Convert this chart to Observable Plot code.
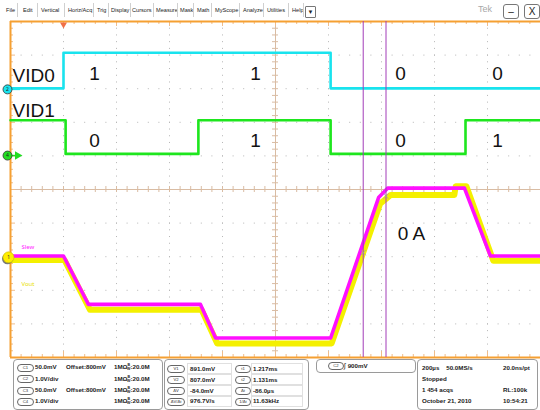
<!DOCTYPE html>
<html><head><meta charset="utf-8">
<script src="https://cdn.jsdelivr.net/npm/d3@7"></script>
<script src="https://cdn.jsdelivr.net/npm/@observablehq/plot@0.6"></script>
<style>
body{margin:0;width:540px;height:410px;overflow:hidden;background:#fff;font-family:"Liberation Sans",Arial,sans-serif;position:relative}
#menu{position:absolute;left:0;top:0;width:540px;height:20px}
.mi{position:absolute;top:6px;font-size:5.6px;color:#222;white-space:nowrap;line-height:8px}
.sep{position:absolute;top:3px;width:1px;height:14px;background:#d0d0d0}
.btn{position:absolute;top:4px;width:14px;height:13px;border:1px solid #777;border-radius:3px;font-size:10px;line-height:13px;text-align:center;color:#222}
#chart{position:absolute;left:0;top:20px}
.box{position:absolute;border:1px solid #9a9a9a;border-radius:4px;background:#fff}
.pill{position:absolute;height:6px;border:1px solid #666;border-radius:4px;font-size:4.2px;line-height:6px;text-align:center;color:#333;background:#fff}
.t{position:absolute;font-size:6.2px;font-weight:bold;color:#222;white-space:nowrap;line-height:8px}
.cell{position:absolute;border:1px solid #e0e0e0}
</style></head><body>
<div id="menu"></div>
<div id="chart"></div>
<div id="panel"></div>
<script>
// ---------------- data ----------------
const menuItems = ["File","Edit","Vertical","Horiz/Acq","Trig","Display","Cursors","Measure","Mask","Math","MyScope","Analyze","Utilities","Help"];
const menuX = [6,23,41,68,97,111,132,156,180,197,215,243,267,292];
const menuSepX = [17,37,64,93,108,130,153,177,193,211,239,263,288,303];

// time in µs relative to trigger, 200 µs/div
const timeDomain = [-200, 1800];
const divDomain = [-5, 5];

// channel positions (div) and scales
const ch2Pos = 2.98, ch2VoltsPerDiv = 1.0;
const ch4Pos = 1.01, ch4VoltsPerDiv = 1.0;
const ch13Pos = -2.02, ch13Offset = 800, ch13MvPerDiv = 50;

// VID0 (C2, cyan)
const vid0Times = [-200, 0, 1008, 1800];
const vid0Volts = [0.03, 1.09, 0.03, 0.03];
// VID1 (C4, green)
const vid1Times = [-200, 8, 509, 1008, 1517, 1800];
const vid1Volts = [1.05, 0.05, 1.05, 0.05, 1.05, 1.05];
// Slew (C1, magenta) in mV
const slewTimes = [-200, 0, 94, 517, 574, 1008, 1189, 1223, 1513, 1611, 1800];
const slewMv    = [802, 802, 730, 730, 680, 680, 889, 903, 903, 802, 802];
// Vout (C3, yellow) in mV
const voutTimes = [-200, 4, 100, 521, 580, 1012, 1195, 1235, 1475, 1480, 1520, 1622, 1800];
const voutMv    = [796, 796, 722, 722, 672, 672, 880, 893, 893, 906, 906, 795, 795];

// annotations
const bitTimes = [117, 725, 1272, 1638];
const vid0Bits = ["1","1","0","0"];
const vid1Bits = ["0","1","0","1"];
const vid0BitDiv = 3.45, vid1BitDiv = 1.46;
const vidNames = ["VID0","VID1"];
const vidNameDiv = [3.39, 2.35];
const currentLabel = "0 A", currentTime = 1313, currentDiv = -1.31;

// cursors
const cursorT = [1217, 1131]; // t1, t2 (µs)
const cursorMv = [891, 807];  // V1, V2

// readouts
const chNames = ["C1","C2","C3","C4"];
const chScale = ["50.0mV","1.0V/div","50.0mV","1.0V/div"];
const chOffset = ["Offset:800mV","","Offset:800mV",""];
const chImp = ["1MΩ","1MΩ","1MΩ","1MΩ"];
const chBw = ["20.0M","20.0M","20.0M","20.0M"];
const curNamesL = ["V1","V2","ΔV","ΔV/Δt"];
const curValsL = ["891.0mV","807.0mV","-84.0mV","976.7V/s"];
const curNamesR = ["t1","t2","Δt","1/Δt"];
const curValsR = ["1.217ms","1.131ms","-86.0µs","11.63kHz"];
const trigText = ["C2","900mV"];
const acqLeft = ["200µs   50.0MS/s","Stopped","1 454 acqs","October 21, 2010"];
const acqRight = ["20.0ns/pt","","RL:100k","10:54:21"];

// ---------------- menu ----------------
const menu = document.getElementById("menu");
menuItems.forEach((m,i)=>{const s=document.createElement("span");s.className="mi";s.style.left=menuX[i]+"px";s.textContent=m;menu.appendChild(s);});
menuSepX.forEach(x=>{const s=document.createElement("div");s.className="sep";s.style.left=x+"px";menu.appendChild(s);});
menu.insertAdjacentHTML("beforeend",
 `<div class="btn" style="left:305px;top:6px;width:9px;height:10px;font-size:6px;line-height:10px;border-radius:1px">▼</div>
  <span style="position:absolute;left:478px;top:4px;font-size:9px;color:#a8a8a8">Tek</span>
  <div class="btn" style="left:503px">–</div>
  <div class="btn" style="left:524px">X</div>`);

// ---------------- chart ----------------
const yC13 = mv => ch13Pos + (mv - ch13Offset)/ch13MvPerDiv;
const vid0 = vid0Times.map((t,i)=>({t, d: ch2Pos + vid0Volts[i]/ch2VoltsPerDiv}));
const vid1 = vid1Times.map((t,i)=>({t, d: ch4Pos + vid1Volts[i]/ch4VoltsPerDiv}));
const slew = slewTimes.map((t,i)=>({t, d: yC13(slewMv[i])}));
const vout = voutTimes.map((t,i)=>({t, d: yC13(voutMv[i])}));
const bits = bitTimes.flatMap((t,i)=>[{t,d:vid0BitDiv,s:vid0Bits[i]},{t,d:vid1BitDiv,s:vid1Bits[i]}]);
const names = vidNames.map((s,i)=>({t:timeDomain[0], d:vidNameDiv[i], s}));
const cursors = cursorT.map((t,i)=>({t, d: yC13(cursorMv[i])}));

const majorX = d3.range(timeDomain[0]+200, timeDomain[1], 200).filter(t=>t!==800);
const majorY = d3.range(-4, 5, 1).filter(d=>d!==0);
const minorX = d3.range(timeDomain[0], timeDomain[1]+1, 40);
const minorY = d3.range(-5, 5.01, 0.2);
const pxT = (timeDomain[1]-timeDomain[0])/530; // µs per pixel
const pxD = 10/336;                              // div per pixel
const tick = "#efbd8c", orange = "#f5a032", center = "#d9bca3";

const markers = [
  {t:timeDomain[0], d:ch2Pos, fill:"#19e3ee", lab:"2"},
  {t:timeDomain[0], d:ch4Pos, fill:"#22dd22", lab:"4"},
];

const plot = Plot.plot({
  width: 540, height: 339,
  marginLeft: 10, marginRight: 0, marginTop: 1, marginBottom: 2,
  x: {domain: timeDomain, axis: null},
  y: {domain: divDomain, axis: null},
  marks: [
    Plot.ruleX(majorX, {stroke:"#b5b5b5", strokeDasharray:"1,5.72"}),
    Plot.ruleY(majorY, {stroke:"#b5b5b5", strokeDasharray:"1,9.6"}),
    Plot.ruleX([800], {stroke:center}),
    Plot.ruleY([0], {stroke:center}),
    Plot.ruleY(minorY, {y:d=>d, x1:800-3*pxT, x2:800+3*pxT, stroke:center}),
    Plot.ruleX(minorX, {x:d=>d, y1:-3*pxD, y2:3*pxD, stroke:center}),
    // border ticks
    Plot.ruleX(minorX, {x:d=>d, y1:5, y2:d=>5-((d+200)%200===0?5:3)*pxD, stroke:tick}),
    Plot.ruleX(minorX, {x:d=>d, y1:-5, y2:d=>-5+((d+200)%200===0?6:3)*pxD, stroke:tick}),
    Plot.ruleY(minorY, {y:d=>d, x1:timeDomain[0], x2:d=>timeDomain[0]+(Math.abs(d-Math.round(d))<1e-6?5:3)*pxT, stroke:tick}),
    // frame (top, bottom, left)
    Plot.ruleY([5, -5], {stroke:orange, strokeWidth:2}),
    Plot.ruleX([timeDomain[0]], {stroke:orange, strokeWidth:2}),
    // traces
    Plot.line(vid0, {x:"t", y:"d", stroke:"#19e3ee", strokeWidth:2.6, curve:"step-after"}),
    Plot.line(vid1, {x:"t", y:"d", stroke:"#1ee61e", strokeWidth:2.6, curve:"step-after"}),
    Plot.line(vout, {x:"t", y:"d", stroke:"#f4f000", strokeWidth:6}),
    Plot.line(slew, {x:"t", y:"d", stroke:"#ff10ff", strokeWidth:3.6}),
    // cursors
    Plot.ruleX(cursorT, {stroke:"#a23cb8", strokeWidth:1}),
    Plot.dot(cursors, {x:"t", y:"d", symbol:"times", r:2.5, stroke:"#a0a0a0", strokeWidth:0.8}),
    // labels
    Plot.text(names, {x:"t", y:"d", text:"s", textAnchor:"start", dx:2, fontSize:19, fontFamily:"Liberation Sans, Arial, sans-serif", fill:"#111"}),
    Plot.text(bits, {x:"t", y:"d", text:"s", fontSize:19, fontFamily:"Liberation Sans, Arial, sans-serif", fill:"#111"}),
    Plot.text([currentLabel], {x:currentTime, y:currentDiv, text:d=>d, fontSize:19, fontFamily:"Liberation Sans, Arial, sans-serif", fill:"#111"}),
    Plot.text(["Slew"], {x:timeDomain[0], y:yC13(815), text:d=>d, textAnchor:"start", dx:11, fontSize:6, fill:"#ff20ff"}),
    Plot.text(["Vout"], {x:timeDomain[0], y:yC13(760), text:d=>d, textAnchor:"start", dx:11, fontSize:6, fill:"#e8e000"}),
    // channel markers
    Plot.ruleY(markers, {y:"d", x1:timeDomain[0], x2:timeDomain[0]+10*pxT, stroke:"fill", strokeWidth:1.5}),
    Plot.dot([markers[1]], {x:"t", y:"d", symbol:"triangle", rotate:90, r:3.2, fill:"fill", dx:7}),
    Plot.dot(markers, {x:"t", y:"d", r:4.5, fill:"fill", stroke:"#333", strokeWidth:0.8, dx:-3}),
    Plot.text(markers, {x:"t", y:"d", text:"lab", dx:-3, fontSize:5, fill:"#222"}),
    Plot.dot([{t:timeDomain[0], d:ch13Pos}], {x:"t", y:"d", r:5.5, fill:"#777", dx:-3, dy:1.5}),
    Plot.dot([{t:timeDomain[0], d:ch13Pos}], {x:"t", y:"d", r:5.5, fill:"#ffee00", stroke:"#c8b800", strokeWidth:0.6, dx:-2}),
    Plot.text([{t:timeDomain[0], d:ch13Pos}], {x:"t", y:"d", text:()=>"1", dx:-2, fontSize:5.5, fill:"#333"}),
    // trigger position marker
    Plot.dot([0], {x:d=>d, y:5, symbol:"triangle", rotate:180, r:2.6, fill:"#f07048", dy:3})
  ]
});
document.getElementById("chart").appendChild(plot);

// ---------------- readout panel ----------------
const panel = document.getElementById("panel");
function el(cls, left, top, html, extra){const d=document.createElement("div");d.className=cls;d.style.left=left+"px";d.style.top=top+"px";if(extra)Object.assign(d.style,extra);d.innerHTML=html;panel.appendChild(d);return d;}
const rowTop = [363, 374.5, 386, 397];
el("box",13,359,"",{width:"148px",height:"49px"});
chNames.forEach((c,i)=>{
  el("pill",17,rowTop[i]+0.5,c,{width:"15px"});
  el("t",35,rowTop[i],chScale[i]);
  if(chOffset[i]) el("t",66,rowTop[i],chOffset[i]);
  el("t",114,rowTop[i],chImp[i]);
  el("t",127,rowTop[i],`<span style="display:inline-block;font-size:3.6px;line-height:3.6px;vertical-align:-1px;text-align:center">B<br>W</span>:${chBw[i]}`);
});
el("box",164,359,"",{width:"143px",height:"49px"});
const rowTop2 = [364.5, 375.5, 386.5, 397];
curNamesL.forEach((c,i)=>{
  el("cell",187,rowTop2[i]-1.5,"",{width:"43px",height:"9px"});
  el("cell",251,rowTop2[i]-1.5,"",{width:"50px",height:"9px"});
  el("pill",167,rowTop2[i]+0.5,c,{width:"16px"});
  el("t",190,rowTop2[i],curValsL[i]);
  el("pill",235,rowTop2[i]+0.5,curNamesR[i],{width:"14px"});
  el("t",253,rowTop2[i],curValsR[i]);
});
el("box",316,359,"",{width:"98px",height:"12px"});
el("pill",328,362,trigText[0],{width:"14px"});
el("t",344,361.5,`<span style="font-weight:normal;font-size:7px">∫</span> ${trigText[1]}`);
el("box",417,359,"",{width:"119px",height:"49px"});
const rowTop4 = [364, 375, 386, 397];
acqLeft.forEach((s,i)=>{ el("t",422,rowTop4[i],s.replace(/ {3}/g,"&nbsp;&nbsp;&nbsp;&nbsp;")); if(acqRight[i]) el("t",503,rowTop4[i],acqRight[i]); });
</script>
</body></html>
